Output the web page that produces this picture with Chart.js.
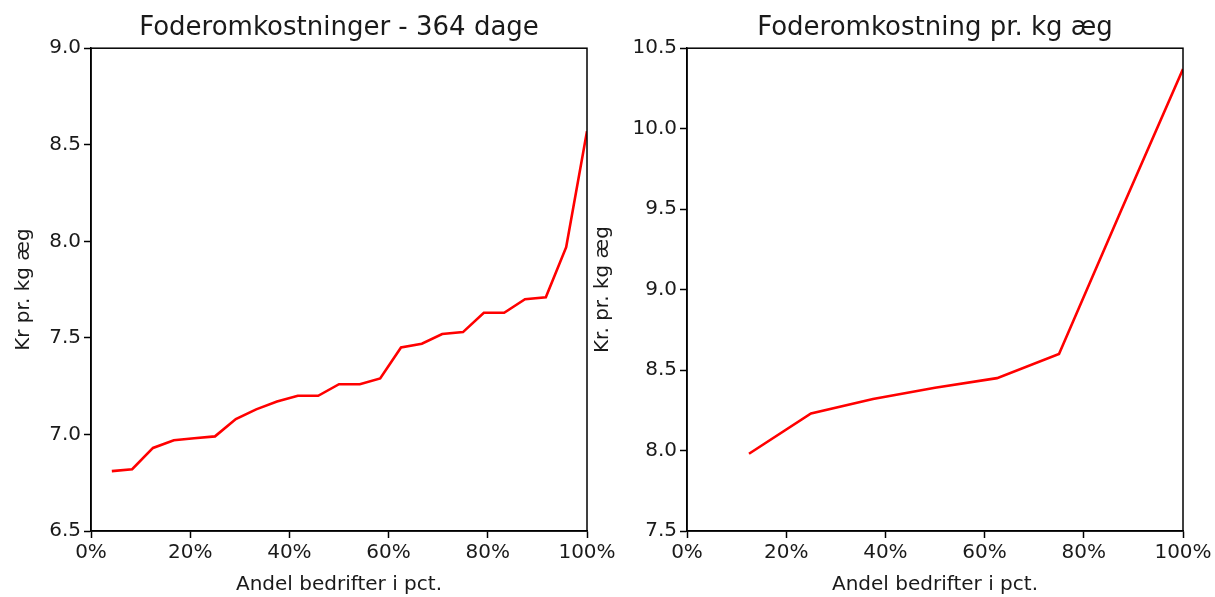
<!DOCTYPE html>
<html>
<head>
<meta charset="utf-8">
<script src="https://cdn.jsdelivr.net/npm/chart.js@4/dist/chart.umd.min.js"></script>
<style>
  body { margin: 0; background: #fff; }
  .wrap { position: absolute; top: 0; height: 597px; }
  #left { left: 0; width: 620px; }
  #right { left: 579px; width: 636px; }
</style>
</head>
<body>
<div class="wrap" id="left"><canvas id="chartLeft"></canvas></div>
<div class="wrap" id="right"><canvas id="chartRight"></canvas></div>
<script>
// Venstre: foderomkostninger - 364 dage
const andelVenstre = [4.2, 8.3, 12.5, 16.7, 20.8, 25.0, 29.2, 33.3, 37.5, 41.7, 45.8, 50.0,
                      54.2, 58.3, 62.5, 66.7, 70.8, 75.0, 79.2, 83.3, 87.5, 91.7, 95.8, 100.0];
const omkVenstre = [6.81, 6.82, 6.93, 6.97, 6.98, 6.99, 7.08, 7.13, 7.17, 7.20, 7.20, 7.26,
                    7.26, 7.29, 7.45, 7.47, 7.52, 7.53, 7.63, 7.63, 7.70, 7.71, 7.97, 8.57];

// Højre: foderomkostning pr. kg æg
const andelHoejre = [12.5, 25.0, 37.5, 50.0, 62.5, 75.0, 87.5, 100.0];
const omkHoejre = [7.98, 8.23, 8.32, 8.39, 8.45, 8.60, 9.49, 10.37];

const xTicks = [0, 20, 40, 60, 80, 100];
const yTicksVenstre = [6.5, 7.0, 7.5, 8.0, 8.5, 9.0];
const yTicksHoejre = [7.5, 8.0, 8.5, 9.0, 9.5, 10.0, 10.5];

const FONT = 'DejaVu Sans';
const TXT = '#1a1a1a';

// ramme rundt om plotområdet + titel centreret over plotområdet
const frame = {
    id: 'frame',
    afterLayout(chart) {
        const t = chart.titleBlock;
        if (t) {
            t.left = chart.chartArea.left;
            t.right = chart.chartArea.right;
            t.width = t.right - t.left;
        }
    },
    afterDraw(chart) {
        const a = chart.chartArea;
        const c = chart.ctx;
        c.save();
        c.strokeStyle = '#000';
        c.lineWidth = 1.5;
        c.strokeRect(a.left, a.top, a.right - a.left, a.bottom - a.top);
        c.restore();
    }
};

function lav(id, titel, yTitel, xs, ys, yTicks, yWidth, rightPad) {
    const punkter = xs.map((x, i) => ({ x: x, y: ys[i] }));
    new Chart(document.getElementById(id), {
        type: 'line',
        data: {
            datasets: [{
                data: punkter,
                borderColor: '#ff0000',
                borderWidth: 2.6,
                pointRadius: 0,
                tension: 0,
                fill: false
            }]
        },
        options: {
            responsive: true,
            maintainAspectRatio: false,
            animation: false,
            layout: { padding: { left: 0, right: rightPad, top: 0, bottom: 0 } },
            plugins: {
                legend: { display: false },
                tooltip: { enabled: false },
                title: {
                    display: true,
                    text: titel,
                    color: TXT,
                    font: { family: FONT, size: 26, weight: 'normal' },
                    padding: { top: 13, bottom: 4 }
                }
            },
            scales: {
                x: {
                    type: 'linear',
                    min: 0,
                    max: 100,
                    afterBuildTicks: s => { s.ticks = xTicks.map(v => ({ value: v })); },
                    afterFit: s => { s.height = 66; },
                    ticks: {
                        color: TXT,
                        font: { family: FONT, size: 20 },
                        padding: 3,
                        maxRotation: 0,
                        callback: v => v + '%'
                    },
                    grid: { drawOnChartArea: false, drawTicks: true, tickLength: 7, color: '#000', tickWidth: 1.5 },
                    border: { color: '#000', width: 1.5 },
                    title: {
                        display: true,
                        text: 'Andel bedrifter i pct.',
                        color: TXT,
                        font: { family: FONT, size: 20 },
                        padding: { top: 4, bottom: 0 }
                    }
                },
                y: {
                    min: yTicks[0],
                    max: yTicks[yTicks.length - 1],
                    afterBuildTicks: s => { s.ticks = yTicks.map(v => ({ value: v })); },
                    afterFit: s => { s.width = yWidth; },
                    ticks: {
                        color: TXT,
                        font: { family: FONT, size: 20 },
                        padding: 3,
                        callback: v => v.toFixed(1)
                    },
                    grid: { drawOnChartArea: false, drawTicks: true, tickLength: 7, color: '#000', tickWidth: 1.5 },
                    border: { color: '#000', width: 1.5 },
                    title: {
                        display: true,
                        text: yTitel,
                        color: TXT,
                        font: { family: FONT, size: 20 },
                        padding: { top: 12, bottom: 0 }
                    }
                }
            }
        },
        plugins: [frame]
    });
}

lav('chartLeft', 'Foderomkostninger - 364 dage', 'Kr pr. kg æg', andelVenstre, omkVenstre, yTicksVenstre, 91, 33);
lav('chartRight', 'Foderomkostning pr. kg æg', 'Kr. pr. kg æg', andelHoejre, omkHoejre, yTicksHoejre, 108, 32);
</script>
</body>
</html>
